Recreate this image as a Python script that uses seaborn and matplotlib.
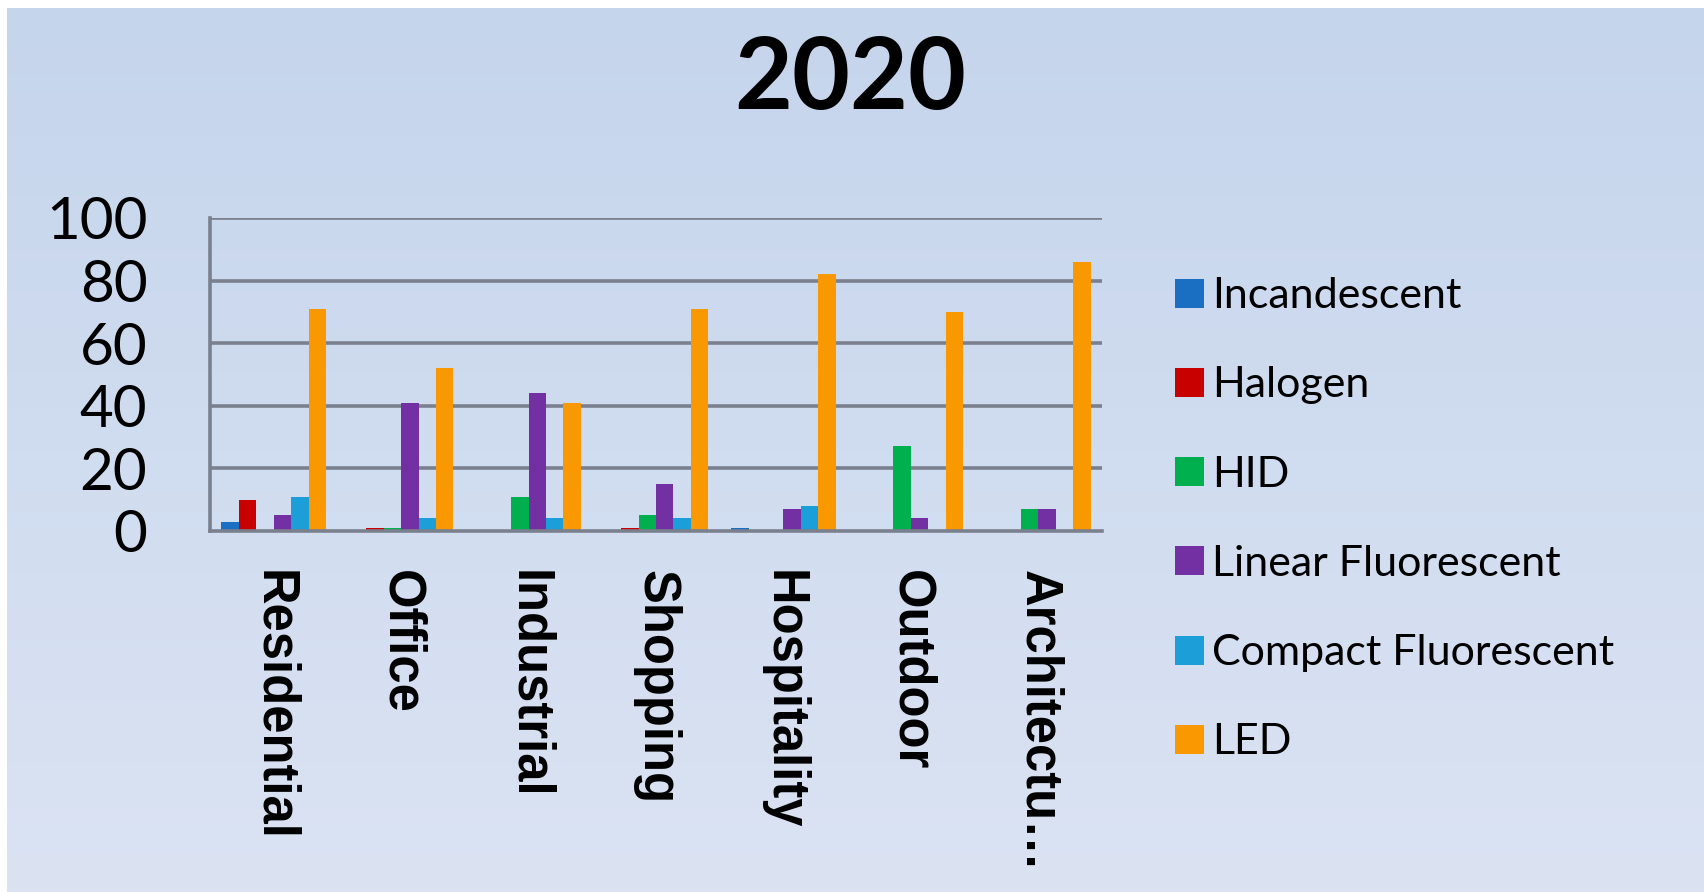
import numpy as np
import pandas as pd
import matplotlib
matplotlib.use("Agg")
import matplotlib.pyplot as plt
import seaborn as sns
from matplotlib.patches import Patch

# Share of lighting technology by application, 2020
categories = ["Residential", "Office", "Industrial", "Shopping",
              "Hospitality", "Outdoor", "Architectu…"]
series = ["Incandescent", "Halogen", "HID", "Linear Fluorescent",
          "Compact Fluorescent", "LED"]

incandescent = [3, 0, 0, 0, 1, 0, 0]
halogen = [10, 1, 0, 1, 0, 0, 0]
hid = [0, 1, 11, 5, 0, 27, 7]
linear_fluorescent = [5, 41, 44, 15, 7, 4, 7]
compact_fluorescent = [11, 4, 4, 4, 8, 0, 0]
led = [71, 52, 41, 71, 82, 70, 86]

y_ticks = [0, 20, 40, 60, 80, 100]
title = "2020"

colors = ["#1A6FC2", "#C80000", "#00B04E", "#7230A2", "#1C9FD8", "#F99800"]

values = [incandescent, halogen, hid, linear_fluorescent, compact_fluorescent, led]
df = pd.DataFrame({
    "category": [c for _ in series for c in categories],
    "series": [s for s in series for _ in categories],
    "value": [v for vals in values for v in vals],
})

sns.set_theme(style="white")
plt.rcParams["font.family"] = ["Lato", "DejaVu Sans"]
plt.rcParams["text.color"] = "black"

W, H = 1704, 892
fig = plt.figure(figsize=(W / 100, H / 100), dpi=100)
fig.patch.set_facecolor("white")

# soft vertical gradient backdrop with a thin white margin at top/left
bg = fig.add_axes([7 / W, 0, 1 - 7 / W, 1 - 8 / H], zorder=-10)
top_c = np.array([197, 213, 236]) / 255
bot_c = np.array([219, 227, 243]) / 255
t = np.linspace(0, 1, 256)[:, None]
grad = (top_c[None, :] * (1 - t) + bot_c[None, :] * t)[:, None, :]
bg.imshow(grad, aspect="auto", extent=[0, 1, 0, 1])
bg.set_axis_off()

ax = fig.add_axes([210 / W, (H - 531) / H, (1102 - 210) / W, (531 - 218) / H])
ax.patch.set_alpha(0)

sns.barplot(data=df, x="category", y="value", hue="series",
            hue_order=series, order=categories, palette=colors,
            width=0.82, saturation=1, ax=ax, legend=False, linewidth=0)

ax.set_ylim(0, 100)
ax.set_xlim(-0.5, len(categories) - 0.5)
ax.set_yticks(y_ticks)
ax.set_yticklabels([str(v) for v in y_ticks])
ax.set_xlabel("")
ax.set_ylabel("")

grid_c = "#7A808E"
for v in y_ticks[1:]:
    ax.axhline(v, color=grid_c, lw=2.6, zorder=0)
for side in ["top", "right"]:
    ax.spines[side].set_visible(False)
for side in ["left", "bottom"]:
    ax.spines[side].set_color(grid_c)
    ax.spines[side].set_linewidth(2.6)

ax.tick_params(axis="y", length=0, pad=45, labelsize=42, labelcolor="black")
ax.tick_params(axis="x", length=0, pad=28, labelcolor="black")
for lbl in ax.get_yticklabels():
    lbl.set_fontfamily(["Lato", "DejaVu Sans"])
for lbl in ax.get_xticklabels():
    lbl.set_rotation(270)
    lbl.set_fontfamily(["Liberation Sans", "DejaVu Sans"])
    lbl.set_fontweight("bold")
    lbl.set_fontsize(36.5)
    lbl.set_va("top")
    lbl.set_ha("center")

handles = [Patch(facecolor=c, edgecolor="none") for c in colors]
fig.legend(handles, series, loc="upper left",
           bbox_to_anchor=(1158 / W, 1 - 260 / H), frameon=False,
           fontsize=31, handlelength=0.66, handleheight=0.66,
           handletextpad=0.2, labelspacing=1.19, borderaxespad=0,
           labelcolor="black")

fig.text(850 / W, 1 - 81 / H, title, ha="center", va="center",
         fontsize=72, fontweight="bold", color="black",
         family=["Lato", "DejaVu Sans"])

fig.savefig("out.png", dpi=100)
